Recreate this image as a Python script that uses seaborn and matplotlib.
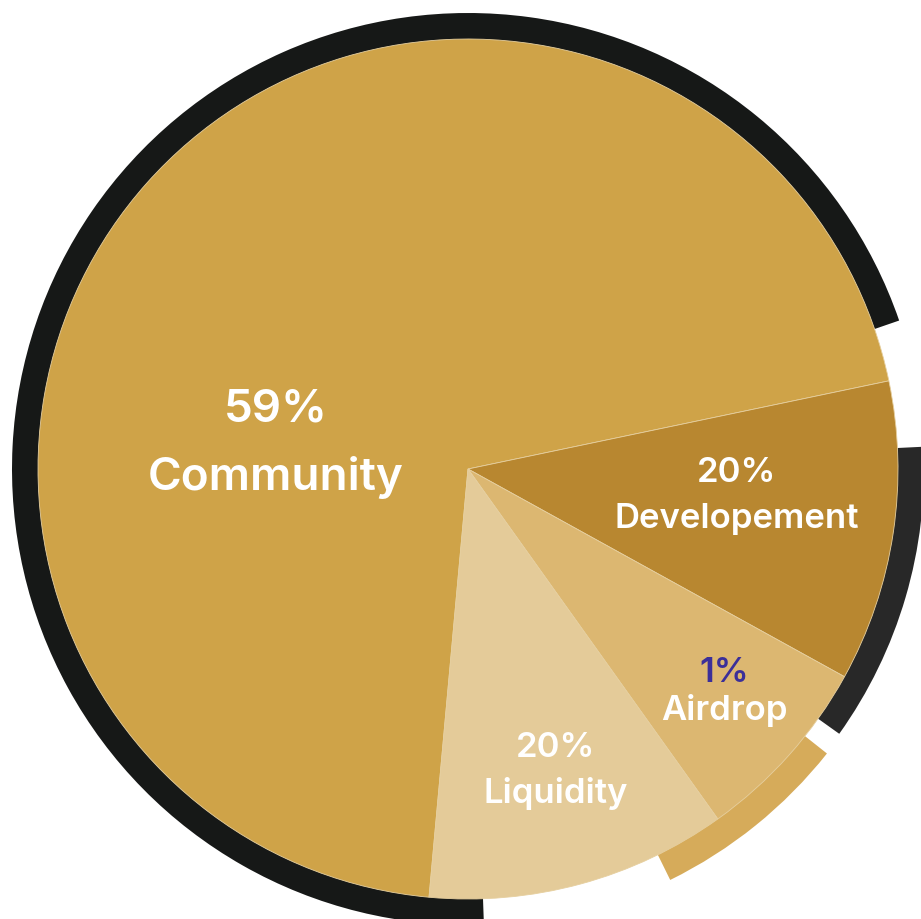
import matplotlib
matplotlib.use("Agg")
import matplotlib.pyplot as plt
from matplotlib.patches import Wedge
import seaborn as sns

# ---- data ----
categories = ["Community", "Developement", "Airdrop", "Liquidity"]
pct_labels = ["59%", "20%", "1%", "20%"]
# drawn slice shares as they appear in the picture
slice_shares = [70.27, 11.31, 7.11, 11.31]
slice_colors = ["#cfa348", "#b88730", "#dcb771", "#e4cb99"]
pct_colors = ["#ffffff", "#ffffff", "#3b2f99", "#ffffff"]

sns.set_theme(style="white")
plt.rcParams["font.family"] = ["Inter", "DejaVu Sans"]

W, H = 921, 920
fig = plt.figure(figsize=(W / 100, H / 100), dpi=100)
ax = fig.add_axes([0, 0, 1, 1])

cx, cy = 468, H - 470
R = 430

# decorative outer arcs
ax.add_patch(Wedge((cx, cy), 456, 19, 272, width=27, facecolor="#161817",
                   edgecolor="none", zorder=0))
ax.add_patch(Wedge((cx, cy), 456, -35.5, 2.8, width=27, facecolor="#282828",
                   edgecolor="none", zorder=0))
ax.add_patch(Wedge((cx, cy), 458, -63.8, -38.4, width=29, facecolor="#d6ab5a",
                   edgecolor="none", zorder=0))

ax.pie(slice_shares, colors=slice_colors, startangle=264.8, counterclock=False,
       center=(cx, cy), radius=R,
       wedgeprops=dict(linewidth=0.6, edgecolor="#e6cf9f"))

# labels (x, baseline of pct, baseline of name, font size)
label_pos = [
    (276, 422, 490, 33),
    (737, 482, 528, 25),
    (724, 682, 720, 25),
    (556, 757, 803, 25),
]
for (x, yb1, yb2, fs), name, pct, pc in zip(label_pos, categories, pct_labels, pct_colors):
    ax.text(x, H - yb1, pct, ha="center", va="baseline", fontsize=fs,
            color=pc, fontweight="semibold", zorder=5)
    ax.text(x, H - yb2, name, ha="center", va="baseline", fontsize=fs,
            color="#ffffff", fontweight="semibold", zorder=5)

ax.set_xlim(0, W)
ax.set_ylim(0, H)
ax.set_aspect("equal", adjustable="box")
ax.axis("off")

fig.savefig("out.png", dpi=100, facecolor="white")
